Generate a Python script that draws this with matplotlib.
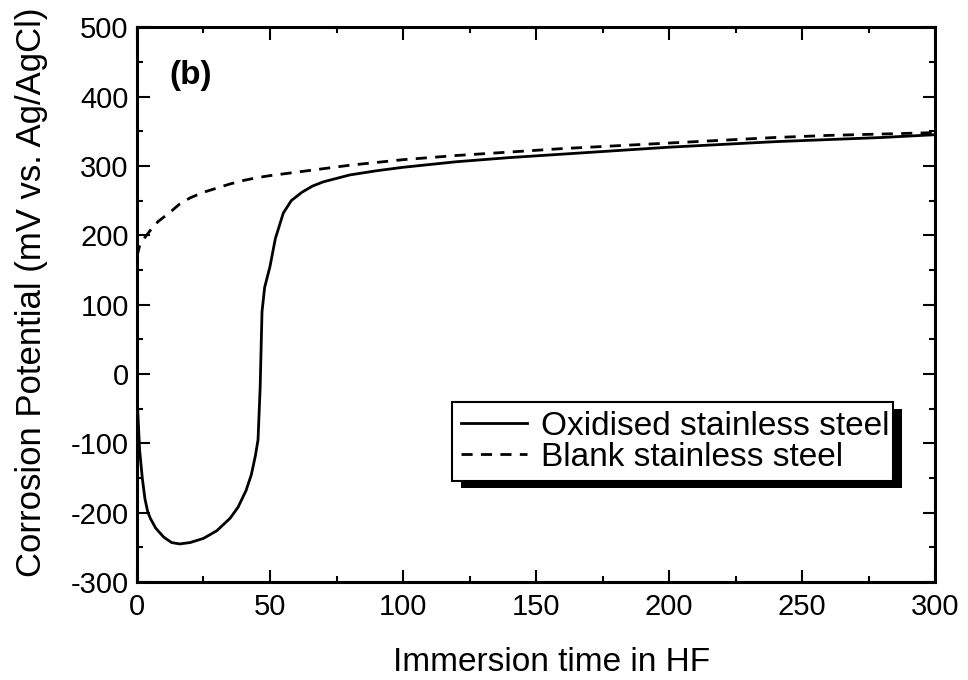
import matplotlib
matplotlib.use("Agg")
import matplotlib.pyplot as plt
from matplotlib.patches import Rectangle
from matplotlib.transforms import IdentityTransform
from matplotlib.ticker import MultipleLocator

plt.rcParams['font.family'] = ['Liberation Sans', 'DejaVu Sans']
plt.rcParams['axes.unicode_minus'] = False

# oxidised stainless steel (solid)
t_ox = [0, 0.5, 1, 2, 3, 4, 5, 7, 10, 13, 16, 20, 25, 30, 35, 38, 41, 43, 44.5,
        45.5, 46.3, 47, 48, 50, 52, 55, 58, 62, 66, 70, 80, 90, 100, 120, 140,
        160, 180, 200, 220, 240, 260, 280, 300]
v_ox = [-30, -70, -110, -150, -180, -198, -208, -222, -235, -243, -245, -243,
        -237, -226, -208, -192, -168, -145, -118, -95, -20, 90, 125, 155, 195,
        232, 250, 262, 271, 277, 287, 293, 298, 306, 312, 317, 322, 327, 331,
        335, 338, 341, 345]

# blank stainless steel (dashed)
t_bl = [0, 1, 2, 4, 6, 8, 10, 13, 16, 20, 25, 30, 35, 40, 45, 50, 60, 70, 80,
        90, 100, 120, 140, 160, 180, 200, 220, 240, 260, 280, 300]
v_bl = [170, 185, 192, 202, 212, 220, 226, 235, 245, 254, 262, 268, 274, 279,
        283, 286, 291, 296, 301, 305, 309, 315, 320, 325, 329, 333, 337, 341,
        344, 346, 348]

labels = ['Oxidised stainless steel', 'Blank stainless steel']

fig = plt.figure(figsize=(9.68, 6.8), dpi=100)
ax = fig.add_axes([0.1415, 0.144, 0.8245, 0.816])

ax.plot(t_ox, v_ox, color='black', lw=2.0, label=labels[0])
ax.plot(t_bl, v_bl, color='black', lw=2.0, dashes=(4, 3), label=labels[1])

ax.set_xlim(0, 300)
ax.set_ylim(-300, 500)
ax.xaxis.set_major_locator(MultipleLocator(50))
ax.xaxis.set_minor_locator(MultipleLocator(25))
ax.yaxis.set_major_locator(MultipleLocator(100))
ax.yaxis.set_minor_locator(MultipleLocator(50))
ax.tick_params(which='both', direction='in', top=True, right=True,
               labelsize=21, width=1.5, pad=6)
ax.tick_params(axis='x', pad=8)
ax.tick_params(which='major', length=9)
ax.tick_params(which='minor', length=4.5)
for s in ax.spines.values():
    s.set_linewidth(2.2)

ax.set_xlabel('Immersion time in HF', fontsize=24)
ax.set_ylabel('Corrosion Potential (mV vs. Ag/AgCl)', fontsize=25)
ax.xaxis.set_label_coords(0.519, -0.117)
ax.yaxis.set_label_coords(-0.112, 0.523)

ax.text(0.041, 0.913, '(b)', transform=ax.transAxes, fontsize=24,
        fontweight='bold', va='center', ha='left')

leg = ax.legend(loc='upper left', bbox_to_anchor=(0.395, 0.324, 0.552, 0.0),
                mode='expand', fontsize=24, frameon=True, fancybox=False,
                edgecolor='black', framealpha=1, handlelength=2.0,
                handletextpad=0.4, borderpad=0.25, labelspacing=0.0,
                borderaxespad=0)
leg.get_frame().set_linewidth(1.5)

fig.canvas.draw()
bb = leg.get_window_extent()
shadow = Rectangle((bb.x0 + 9, bb.y0 - 7), bb.width, bb.height,
                   transform=IdentityTransform(), facecolor='black',
                   edgecolor='none', zorder=4.5)
ax.add_artist(shadow)

fig.savefig('out.png', dpi=100)
